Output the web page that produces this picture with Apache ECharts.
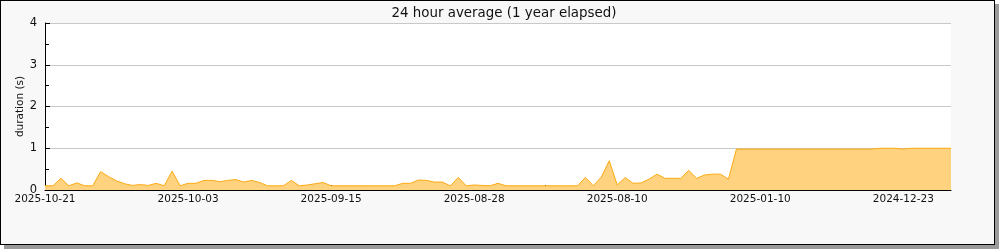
<!DOCTYPE html>
<html>
<head>
<meta charset="utf-8">
<script src="https://cdn.jsdelivr.net/npm/echarts@6/dist/echarts.min.js"></script>
<style>
  html, body { margin: 0; padding: 0; background: #fff; }
  #frame { position: absolute; left: 0; top: 0; width: 993px; height: 243px; border: 1px solid #000; background: #f8f8f8; box-shadow: 4px 4px 0 #9a9a9a; }
  #chart { position: absolute; left: 0; top: 0; width: 1000px; height: 250px; }
</style>
</head>
<body>
<div id="frame"></div>
<div id="chart"></div>
<script>
const titleText = '24 hour average (1 year elapsed)';
const yAxisName = 'duration (s)';
const categories = [
  '2025-10-21','2025-10-20','2025-10-19','2025-10-18','2025-10-17','2025-10-16','2025-10-15','2025-10-14','2025-10-13','2025-10-12',
  '2025-10-11','2025-10-10','2025-10-09','2025-10-08','2025-10-07','2025-10-06','2025-10-05','2025-10-04','2025-10-03','2025-10-02',
  '2025-10-01','2025-09-30','2025-09-29','2025-09-28','2025-09-27','2025-09-26','2025-09-25','2025-09-24','2025-09-23','2025-09-22',
  '2025-09-21','2025-09-20','2025-09-19','2025-09-18','2025-09-17','2025-09-16','2025-09-15','2025-09-14','2025-09-13','2025-09-12',
  '2025-09-11','2025-09-10','2025-09-09','2025-09-08','2025-09-07','2025-09-06','2025-09-05','2025-09-04','2025-09-03','2025-09-02',
  '2025-09-01','2025-08-31','2025-08-30','2025-08-29','2025-08-28','2025-08-27','2025-08-26','2025-08-25','2025-08-24','2025-08-23',
  '2025-08-22','2025-08-21','2025-08-20','2025-08-19','2025-08-18','2025-08-17','2025-08-16','2025-08-15','2025-08-14','2025-08-13',
  '2025-08-12','2025-08-11','2025-08-10','2025-08-09','2025-08-08','2025-08-07','2025-08-06','2025-08-05','2025-08-04','2025-08-03',
  '2025-08-02','2025-08-01','2025-07-31','2025-07-30','2025-07-29','2025-07-28','2025-07-27',
  '2025-01-13','2025-01-12','2025-01-11','2025-01-10','2025-01-09','2025-01-08','2025-01-07','2025-01-06','2025-01-05','2025-01-04',
  '2025-01-03','2025-01-02','2025-01-01','2024-12-31','2024-12-30','2024-12-29','2024-12-28','2024-12-27','2024-12-26','2024-12-25',
  '2024-12-24','2024-12-23','2024-12-22','2024-12-21','2024-12-20','2024-12-19','2024-12-18','2024-12-17'
];
const durations = [
  0.10,0.10,0.28,0.10,0.17,0.10,0.10,0.44,0.32,0.22,
  0.15,0.11,0.13,0.11,0.16,0.10,0.45,0.10,0.16,0.16,
  0.23,0.23,0.20,0.23,0.25,0.19,0.23,0.18,0.10,0.10,
  0.10,0.23,0.10,0.12,0.15,0.18,0.10,0.10,0.10,0.10,
  0.10,0.10,0.10,0.10,0.10,0.16,0.16,0.24,0.23,0.19,
  0.19,0.10,0.30,0.10,0.12,0.11,0.10,0.16,0.10,0.10,
  0.10,0.10,0.10,0.10,0.10,0.10,0.10,0.10,0.30,0.10,
  0.31,0.70,0.12,0.30,0.16,0.17,0.26,0.38,0.28,0.28,
  0.28,0.47,0.28,0.36,0.38,0.38,0.26,
  0.98,0.98,0.98,0.98,0.98,0.98,0.98,0.98,0.98,0.98,
  0.98,0.98,0.98,0.98,0.98,0.98,0.98,0.98,1.00,1.00,
  1.00,0.98,1.00,1.00,1.00,1.00,1.00,1.00
];
const yTicks = [0, 1, 2, 3, 4];

const font = 'DejaVu Sans';
const chart = echarts.init(document.getElementById('chart'), null, { renderer: 'canvas' });
chart.setOption({
  backgroundColor: 'transparent',
  animation: false,
  title: {
    text: titleText, left: 499, top: 2, textAlign: 'center',
    textStyle: { fontFamily: font, fontSize: 13.4, fontWeight: 'normal', color: '#111' }
  },
  grid: { left: 45, top: 23, width: 906, height: 167, show: true, backgroundColor: '#fff', borderWidth: 0 },
  xAxis: {
    type: 'category', data: categories, boundaryGap: false,
    axisLine: { lineStyle: { color: '#000', width: 1 } },
    axisTick: { inside: true, length: 5, interval: 8, lineStyle: { color: '#000' } },
    axisLabel: { interval: 17, margin: 4, fontFamily: font, fontSize: 10.5, color: '#111' },
    splitLine: { show: false }
  },
  yAxis: {
    type: 'value', min: yTicks[0], max: yTicks[yTicks.length - 1], interval: 1,
    name: yAxisName, nameLocation: 'middle', nameGap: 19, nameMoveOverlap: false,
    nameTextStyle: { fontFamily: font, fontSize: 10.5, color: '#111' },
    axisLine: { show: true, lineStyle: { color: '#000', width: 1 } },
    axisTick: { show: true, inside: true, length: 5, lineStyle: { color: '#000' } },
    minorTick: { show: true, splitNumber: 2, length: 4, lineStyle: { color: '#000' } },
    axisLabel: { margin: 8, fontFamily: font, fontSize: 11.5, color: '#111' },
    splitLine: { show: true, lineStyle: { color: '#c8c8c8', width: 1 } }
  },
  series: [{
    type: 'line', data: durations, symbol: 'none', smooth: false,
    lineStyle: { color: '#fcaa12', width: 1 },
    areaStyle: { color: '#ffd27f', opacity: 1 },
    z: 2
  }]
});
</script>
</body>
</html>
